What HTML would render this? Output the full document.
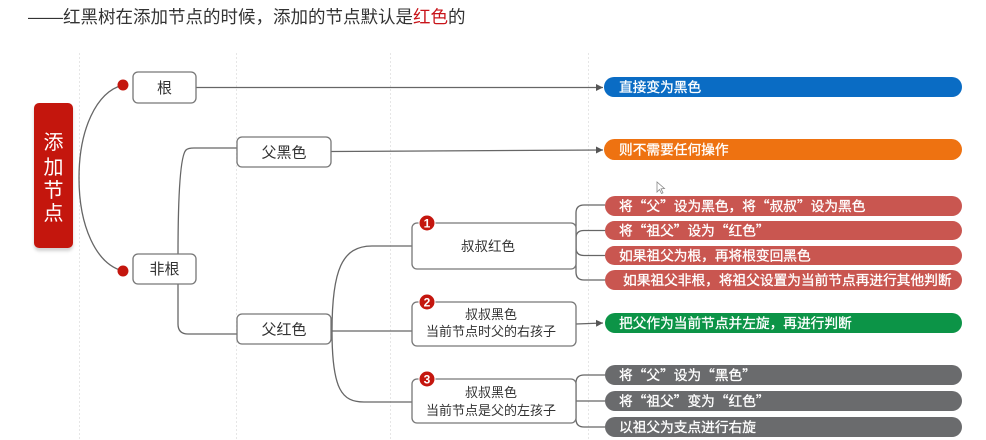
<!DOCTYPE html>
<html><head><meta charset="utf-8">
<style>
html,body{margin:0;padding:0;background:#fff;}
body{width:986px;height:440px;overflow:hidden;}
svg{display:block;}
text{font-family:"Liberation Sans","Noto Sans CJK SC",sans-serif;}
.q{font-family:"Noto Sans CJK SC",sans-serif;}
</style></head>
<body>
<svg width="986" height="440" viewBox="0 0 986 440" xmlns="http://www.w3.org/2000/svg">
<defs>
<marker id="ah" markerWidth="8" markerHeight="8" refX="7" refY="4" orient="auto" markerUnits="userSpaceOnUse">
<path d="M0,0.5 L7,4 L0,7.5 Z" fill="#555"/>
</marker>
<filter id="sh" x="-20%" y="-20%" width="140%" height="140%">
<feDropShadow dx="0" dy="3" stdDeviation="1.5" flood-color="#000" flood-opacity="0.18"/>
</filter>
</defs>

<!-- faint dotted vertical guides -->
<g stroke="#e6e6e6" stroke-width="1" stroke-dasharray="2,2">
<line x1="79.5" y1="53" x2="79.5" y2="440"/>
<line x1="236.5" y1="53" x2="236.5" y2="440"/>
<line x1="390.5" y1="53" x2="390.5" y2="440"/>
<line x1="588.5" y1="53" x2="588.5" y2="440"/>
</g>

<!-- title -->
<text x="28" y="23" font-size="17.5" fill="#333">——红黑树在添加节点的时候，添加的节点默认是<tspan fill="#c8141a">红色</tspan>的</text>

<!-- root red box -->
<rect x="34" y="103" width="39" height="145" rx="5" fill="#c4160e" filter="url(#sh)"/>
<g font-size="20" fill="#fff" text-anchor="middle">
<text x="53.5" y="149">添</text>
<text x="53.5" y="174">加</text>
<text x="53.5" y="197">节</text>
<text x="53.5" y="220">点</text>
</g>

<!-- connectors -->
<g fill="none" stroke="#666" stroke-width="1.3">
<path d="M123,85 C96,92 79,130 79,178 C79,226 96,264 123,271"/>
<line x1="196" y1="87.5" x2="603" y2="87.5" marker-end="url(#ah)"/>
<path d="M178,256 C178,200 180,156 186,150 Q188,148 194,148 L237,148"/>
<path d="M178,284 L178,324 Q178,334 188,334 L237,334"/>
<line x1="331" y1="151.5" x2="603" y2="150" marker-end="url(#ah)"/>
<path d="M332,331 C332,270 342,246 372,246 L412,246"/>
<path d="M332,331 L412,331"/>
<path d="M332,331 C332,390 342,402 364,402 L412,402"/>
<path d="M576,246 L576,213 Q576,205 584,205 L605,205"/>
<path d="M576,246 L576,238 Q576,230.5 584,230.5 L605,230.5"/>
<path d="M576,246 L576,248 Q576,255.5 584,255.5 L605,255.5"/>
<path d="M576,246 L576,272 Q576,280 584,280 L605,280"/>
<line x1="576" y1="324" x2="603" y2="323" marker-end="url(#ah)"/>
<path d="M576,401 L576,383 Q576,375 584,375 L605,375"/>
<path d="M576,401 L605,401"/>
<path d="M576,401 L576,419 Q576,427 584,427 L605,427"/>
</g>

<!-- red dots -->
<circle cx="123" cy="85" r="5.5" fill="#c4160e"/>
<circle cx="123" cy="271" r="5.5" fill="#c4160e"/>

<!-- white boxes -->
<g fill="#fff" stroke="#777" stroke-width="1.3">
<rect x="133" y="72" width="63" height="31" rx="5"/>
<rect x="133" y="254" width="63" height="30" rx="5"/>
<rect x="237" y="137" width="94" height="30" rx="5"/>
<rect x="237" y="314" width="94" height="30" rx="5"/>
<rect x="412" y="223" width="164" height="46" rx="5"/>
<rect x="412" y="302" width="164" height="44" rx="5"/>
<rect x="412" y="379" width="164" height="44" rx="5"/>
</g>

<g fill="#333" text-anchor="middle">
<text x="164.5" y="93" font-size="15">根</text>
<text x="164.5" y="274" font-size="15">非根</text>
<text x="284" y="157.5" font-size="15">父黑色</text>
<text x="284" y="334.5" font-size="15">父红色</text>
<text x="488" y="251" font-size="13.5">叔叔红色</text>
<text x="491" y="319" font-size="13">叔叔黑色</text>
<text x="491" y="336" font-size="13">当前节点时父的右孩子</text>
<text x="491" y="397" font-size="13">叔叔黑色</text>
<text x="491" y="415" font-size="13">当前节点是父的左孩子</text>
</g>

<!-- badges -->
<g>
<circle cx="427" cy="223" r="8" fill="#c4160e" stroke="#fff" stroke-width="1"/>
<circle cx="427" cy="302" r="8" fill="#c4160e" stroke="#fff" stroke-width="1"/>
<circle cx="427" cy="379" r="8" fill="#c4160e" stroke="#fff" stroke-width="1"/>
</g>
<g fill="#fff" font-size="12" font-weight="bold" text-anchor="middle">
<text x="427" y="227.5">1</text>
<text x="427" y="306.5">2</text>
<text x="427" y="383.5">3</text>
</g>

<!-- colored bars -->
<rect x="604" y="77" width="358" height="20" rx="10" fill="#0a6cc4"/>
<rect x="604" y="139" width="358" height="21" rx="10.5" fill="#ee7211"/>
<g fill="#c95650">
<rect x="605" y="196" width="357" height="20" rx="10"/>
<rect x="605" y="221" width="357" height="19" rx="9.5"/>
<rect x="605" y="246" width="357" height="19" rx="9.5"/>
<rect x="605" y="270" width="357" height="20" rx="10"/>
</g>
<rect x="605" y="313" width="357" height="20" rx="10" fill="#0c9447"/>
<g fill="#6a6b6d">
<rect x="605" y="365" width="357" height="20" rx="10"/>
<rect x="605" y="391" width="357" height="20" rx="10"/>
<rect x="605" y="417" width="357" height="20" rx="10"/>
</g>

<g fill="#fff" font-size="13.7" stroke="#fff" stroke-width="0.3">
<text x="619" y="92">直接变为黑色</text>
<text x="619" y="154.5">则不需要任何操作</text>
<text x="619" y="211" class="q">将“父”设为黑色，将“叔叔”设为黑色</text>
<text x="619" y="235.5" class="q">将“祖父”设为“红色”</text>
<text x="619" y="260.5">如果祖父为根，再将根变回黑色</text>
<text x="623" y="285">如果祖父非根，将祖父设置为当前节点再进行其他判断</text>
<text x="619" y="328">把父作为当前节点并左旋，再进行判断</text>
<text x="619" y="380" class="q">将“父”设为“黑色”</text>
<text x="619" y="406" class="q">将“祖父”变为“红色”</text>
<text x="619" y="432">以祖父为支点进行右旋</text>
</g>

<!-- cursor -->
<path d="M657,182 L657,192 L659.5,189.5 L661.5,193.5 L663,192.8 L661,188.8 L664.5,188.5 Z" fill="#fff" stroke="#888" stroke-width="0.8"/>
</svg>
</body></html>
